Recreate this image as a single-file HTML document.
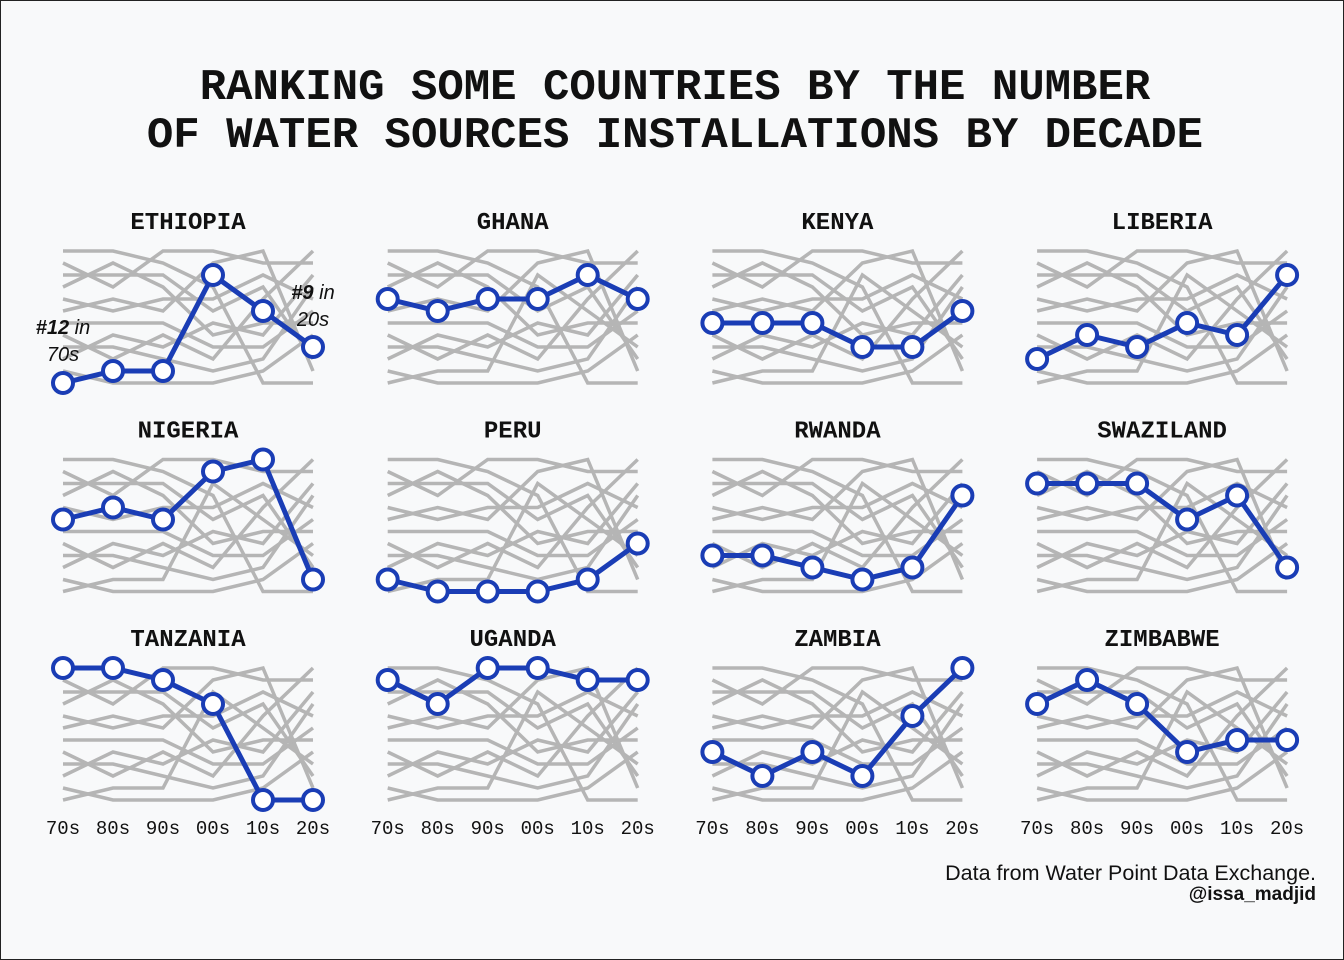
<!DOCTYPE html>
<html><head><meta charset="utf-8"><style>
html,body{margin:0;padding:0;background:#f8f9fa;}
svg{display:block;}
</style></head><body>
<svg id="chart" width="1344" height="960" xmlns="http://www.w3.org/2000/svg">
<rect x="0.5" y="0.5" width="1343" height="959" fill="#f8f9fa" stroke="#222" stroke-width="1"/>
<text x="675" y="99" text-anchor="middle" font-family="Liberation Mono, monospace" font-weight="bold" font-size="44" fill="#111">RANKING SOME COUNTRIES BY THE NUMBER</text>
<text x="675" y="147" text-anchor="middle" font-family="Liberation Mono, monospace" font-weight="bold" font-size="44" fill="#111">OF WATER SOURCES INSTALLATIONS BY DECADE</text>
<text x="1316" y="880" text-anchor="end" font-family="Liberation Sans, sans-serif" font-size="21.5" fill="#111">Data from Water Point Data Exchange.</text>
<text x="1316" y="900" text-anchor="end" font-family="Liberation Sans, sans-serif" font-weight="bold" font-size="19" fill="#111">@issa_madjid</text>
<g id="panels"></g>
</svg>
<script>
const countries = ["ETHIOPIA","GHANA","KENYA","LIBERIA","NIGERIA","PERU","RWANDA","SWAZILAND","TANZANIA","UGANDA","ZAMBIA","ZIMBABWE"];
const decades = ["70s","80s","90s","00s","10s","20s"];
const rankEthiopia = [12,11,11,3,6,9];
const rankGhana = [5,6,5,5,3,5];
const rankKenya = [7,7,7,9,9,6];
const rankLiberia = [10,8,9,7,8,3];
const rankNigeria = [6,5,6,2,1,11];
const rankPeru = [11,12,12,12,11,8];
const rankRwanda = [9,9,10,11,10,4];
const rankSwaziland = [3,3,3,6,4,10];
const rankTanzania = [1,1,2,4,12,12];
const rankUganda = [2,4,1,1,2,2];
const rankZambia = [8,10,8,10,5,1];
const rankZimbabwe = [4,2,4,8,7,7];
const ranks = [rankEthiopia,rankGhana,rankKenya,rankLiberia,rankNigeria,rankPeru,rankRwanda,rankSwaziland,rankTanzania,rankUganda,rankZambia,rankZimbabwe];

const NS = "http://www.w3.org/2000/svg";
const root = document.getElementById("panels");
function mk(tag, attrs, parent){const e=document.createElementNS(NS,tag);for(const k in attrs)e.setAttribute(k,attrs[k]);parent.appendChild(e);return e;}
const colX0 = 63, colStep = 324.7, rowY0 = 251, rowStep = 208.5, xStep = 50, rStep = 12;

countries.forEach((name, ci) => {
  const col = ci % 4, row = Math.floor(ci / 4);
  const ox = colX0 + col * colStep, oy = rowY0 + row * rowStep;
  const xs = i => ox + i * xStep;
  const ys = r => oy + (r - 1) * rStep;
  const g = mk("g", {}, root);
  
  
  const t = mk("text", {x: ox + 125, y: oy - 22, "text-anchor": "middle", "font-family": "Liberation Mono, monospace", "font-weight": "bold", "font-size": "24", fill: "#111"}, g);
  t.textContent = name;
  
  
  ranks.forEach((rk, k) => {
    if (k === ci) return;
    const p = mk("polyline", {points: rk.map((r,i)=>xs(i)+","+ys(r)).join(" "), fill: "none", stroke: "#b5b5b5", "stroke-width": "3.5"}, g);
    
    
  });
  const rk = ranks[ci];
  const hl = mk("polyline", {points: rk.map((r,i)=>xs(i)+","+ys(r)).join(" "), fill: "none", stroke: "#1a3db5", "stroke-width": "5"}, g);
  
  
  rk.forEach((r,i) => {
    const c = mk("circle", {cx: xs(i), cy: ys(r), r: 10, fill: "#fff", stroke: "#1a3db5", "stroke-width": "4"}, g);
    
    
  });
  if (row === 2) {
    decades.forEach((d,i) => {
      const l = mk("text", {x: xs(i), y: 834, "text-anchor": "middle", "font-family": "Liberation Mono, monospace", "font-size": "19", fill: "#111"}, g);
      l.textContent = d;
      
      
    });
  }
  if (ci === 0) {
    const ann = [["#12", " in", xs(0), ys(rk[0]) - 49], ["", "70s", xs(0), ys(rk[0]) - 22], ["#9", " in", xs(5), ys(rk[5]) - 48], ["", "20s", xs(5), ys(rk[5]) - 21]];
    ann.forEach(a => {
      const e = mk("text", {x: a[2], y: a[3], "text-anchor": "middle", "font-family": "Liberation Sans, sans-serif", "font-style": "italic", "font-size": "20", fill: "#111"}, g);
      if (a[0]) { const b = mk("tspan", {"font-weight": "bold"}, e); b.textContent = a[0]; }
      const n = mk("tspan", {}, e); n.textContent = a[1];
      
      
    });
  }
});
</script>
</body></html>
